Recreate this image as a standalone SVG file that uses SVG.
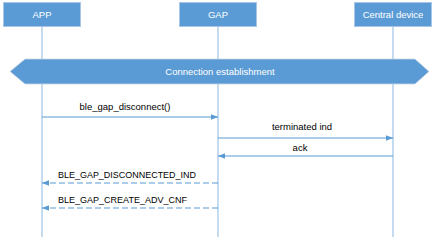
<svg xmlns="http://www.w3.org/2000/svg" width="436" height="237" viewBox="0 0 436 237">
<defs>
<style>
.box{fill:#5B9BD5;stroke:#A9C6E8;stroke-width:1}
.lt{font-family:"Liberation Sans",Arial,sans-serif;font-size:9.5px;fill:#FFFFFF;text-anchor:middle}
.ml{font-family:"Liberation Sans",Arial,sans-serif;font-size:9.5px;fill:#000000}
.life{stroke:#9DC3E6;stroke-width:1.2;fill:none}
.msg{stroke:#5B9BD5;stroke-width:1.2;fill:none}
.dash{stroke-dasharray:6,3}
</style>
<marker id="ah" viewBox="0 0 10 10" refX="10" refY="5" markerWidth="7" markerHeight="7" orient="auto" markerUnits="userSpaceOnUse">
<path d="M0,1 L10,5 L0,9 Z" fill="#5B9BD5"/>
</marker>
</defs>
<rect width="436" height="237" fill="#FFFFFF"/>
<g id="lifelines">
<line class="life" x1="42" y1="27" x2="42" y2="237"/>
<line class="life" x1="218" y1="27" x2="218" y2="237"/>
<line class="life" x1="393" y1="27" x2="393" y2="237"/>
</g>
<g id="app">
<rect class="box" x="3.5" y="2.5" width="77" height="24"/>
<text class="lt" x="42" y="18">APP</text>
</g>
<g id="gap">
<rect class="box" x="179.5" y="2.5" width="77" height="24"/>
<text class="lt" x="218" y="18">GAP</text>
</g>
<g id="central">
<rect class="box" x="354.5" y="2.5" width="77" height="24"/>
<text class="lt" x="393" y="18">Central device</text>
</g>
<g id="banner">
<polygon points="10,71.5 25,59 415,59 429,71.5 415,84 25,84" fill="#5B9BD5" stroke="#C9D6E3" stroke-width="0.8"/>
<text class="lt" x="220" y="75">Connection establishment</text>
</g>
<g id="connectors">
<line class="msg" x1="42" y1="117" x2="218" y2="117" marker-end="url(#ah)"/>
<text class="ml" x="125" y="110" text-anchor="middle">ble_gap_disconnect()</text>
<line class="msg" x1="218" y1="138" x2="393" y2="138" marker-end="url(#ah)"/>
<text class="ml" x="302" y="130" text-anchor="middle">terminated ind</text>
<line class="msg" x1="393" y1="156" x2="218" y2="156" marker-end="url(#ah)"/>
<text class="ml" x="300" y="151" text-anchor="middle">ack</text>
<line class="msg dash" x1="218" y1="183" x2="42" y2="183" marker-end="url(#ah)"/>
<text class="ml" x="58" y="178" textLength="138" lengthAdjust="spacingAndGlyphs">BLE_GAP_DISCONNECTED_IND</text>
<line class="msg dash" x1="218" y1="208" x2="42" y2="208" marker-end="url(#ah)"/>
<text class="ml" x="58" y="203" textLength="129" lengthAdjust="spacingAndGlyphs">BLE_GAP_CREATE_ADV_CNF</text>
</g>
</svg>
